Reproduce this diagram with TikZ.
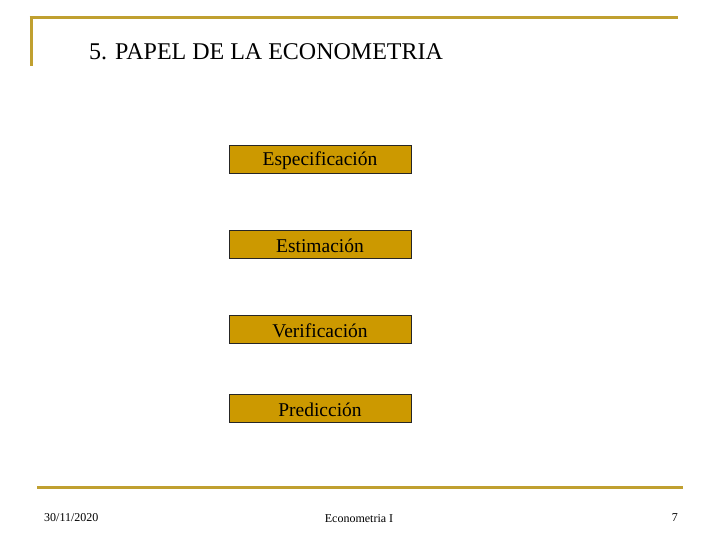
\documentclass[tikz,border=0pt]{standalone}
\usepackage{fontspec}
\setmainfont{Liberation Serif}
\definecolor{gold}{HTML}{C0A030}
\definecolor{boxfill}{HTML}{CC9900}
\tikzset{
  stepbox/.style={draw=black!85, line width=0.8pt, fill=boxfill, minimum width=182pt, minimum height=28pt, inner sep=0pt, font=\fontsize{19.5}{21}\selectfont},
  steptext/.style={inner sep=0pt, font=\fontsize{19.5}{21}\selectfont},
  rule/.style={draw=gold, line width=3pt},
  foot/.style={font=\fontsize{12}{14}\selectfont, inner sep=0pt}
}
\begin{document}
\begin{tikzpicture}[x=1pt,y=-1pt]
\useasboundingbox (0,0) rectangle (720,540);
\coordinate (tl) at (29.5,18);
\coordinate (tr) at (678,18);
\coordinate (vb) at (31,66);
\draw[rule] (tl) -- (tr);
\draw[rule] (31,16.5) -- (vb);
\node[anchor=west, inner sep=0pt, font=\fontsize{24}{26}\selectfont] (title) at (89,52) {5. PAPEL DE LA ECONOMETRIA};
\node[stepbox] (b1) at (320,159) {};
\node[stepbox] (b2) at (320,244) {};
\node[stepbox] (b3) at (320,329) {};
\node[stepbox] (b4) at (320,408.5) {};
\node[steptext] (t1) at ([yshift=-1.5pt]b1.center) {Especificación};
\node[steptext] (t2) at ([yshift=-1.5pt]b2.center) {Estimación};
\node[steptext] (t3) at ([yshift=-1.5pt]b3.center) {Verificación};
\node[steptext] (t4) at ([yshift=-1.5pt]b4.center) {Predicción};
\coordinate (bl) at (37,487);
\coordinate (br) at (683,487);
\draw[rule] (bl) -- (br);
\node[foot, anchor=west] (date) at (44,517.5) {30/11/2020};
\node[foot] (course) at (359,518.5) {Econometria I};
\node[foot, anchor=east] (page) at (678,517.5) {7};
\end{tikzpicture}
\end{document}
